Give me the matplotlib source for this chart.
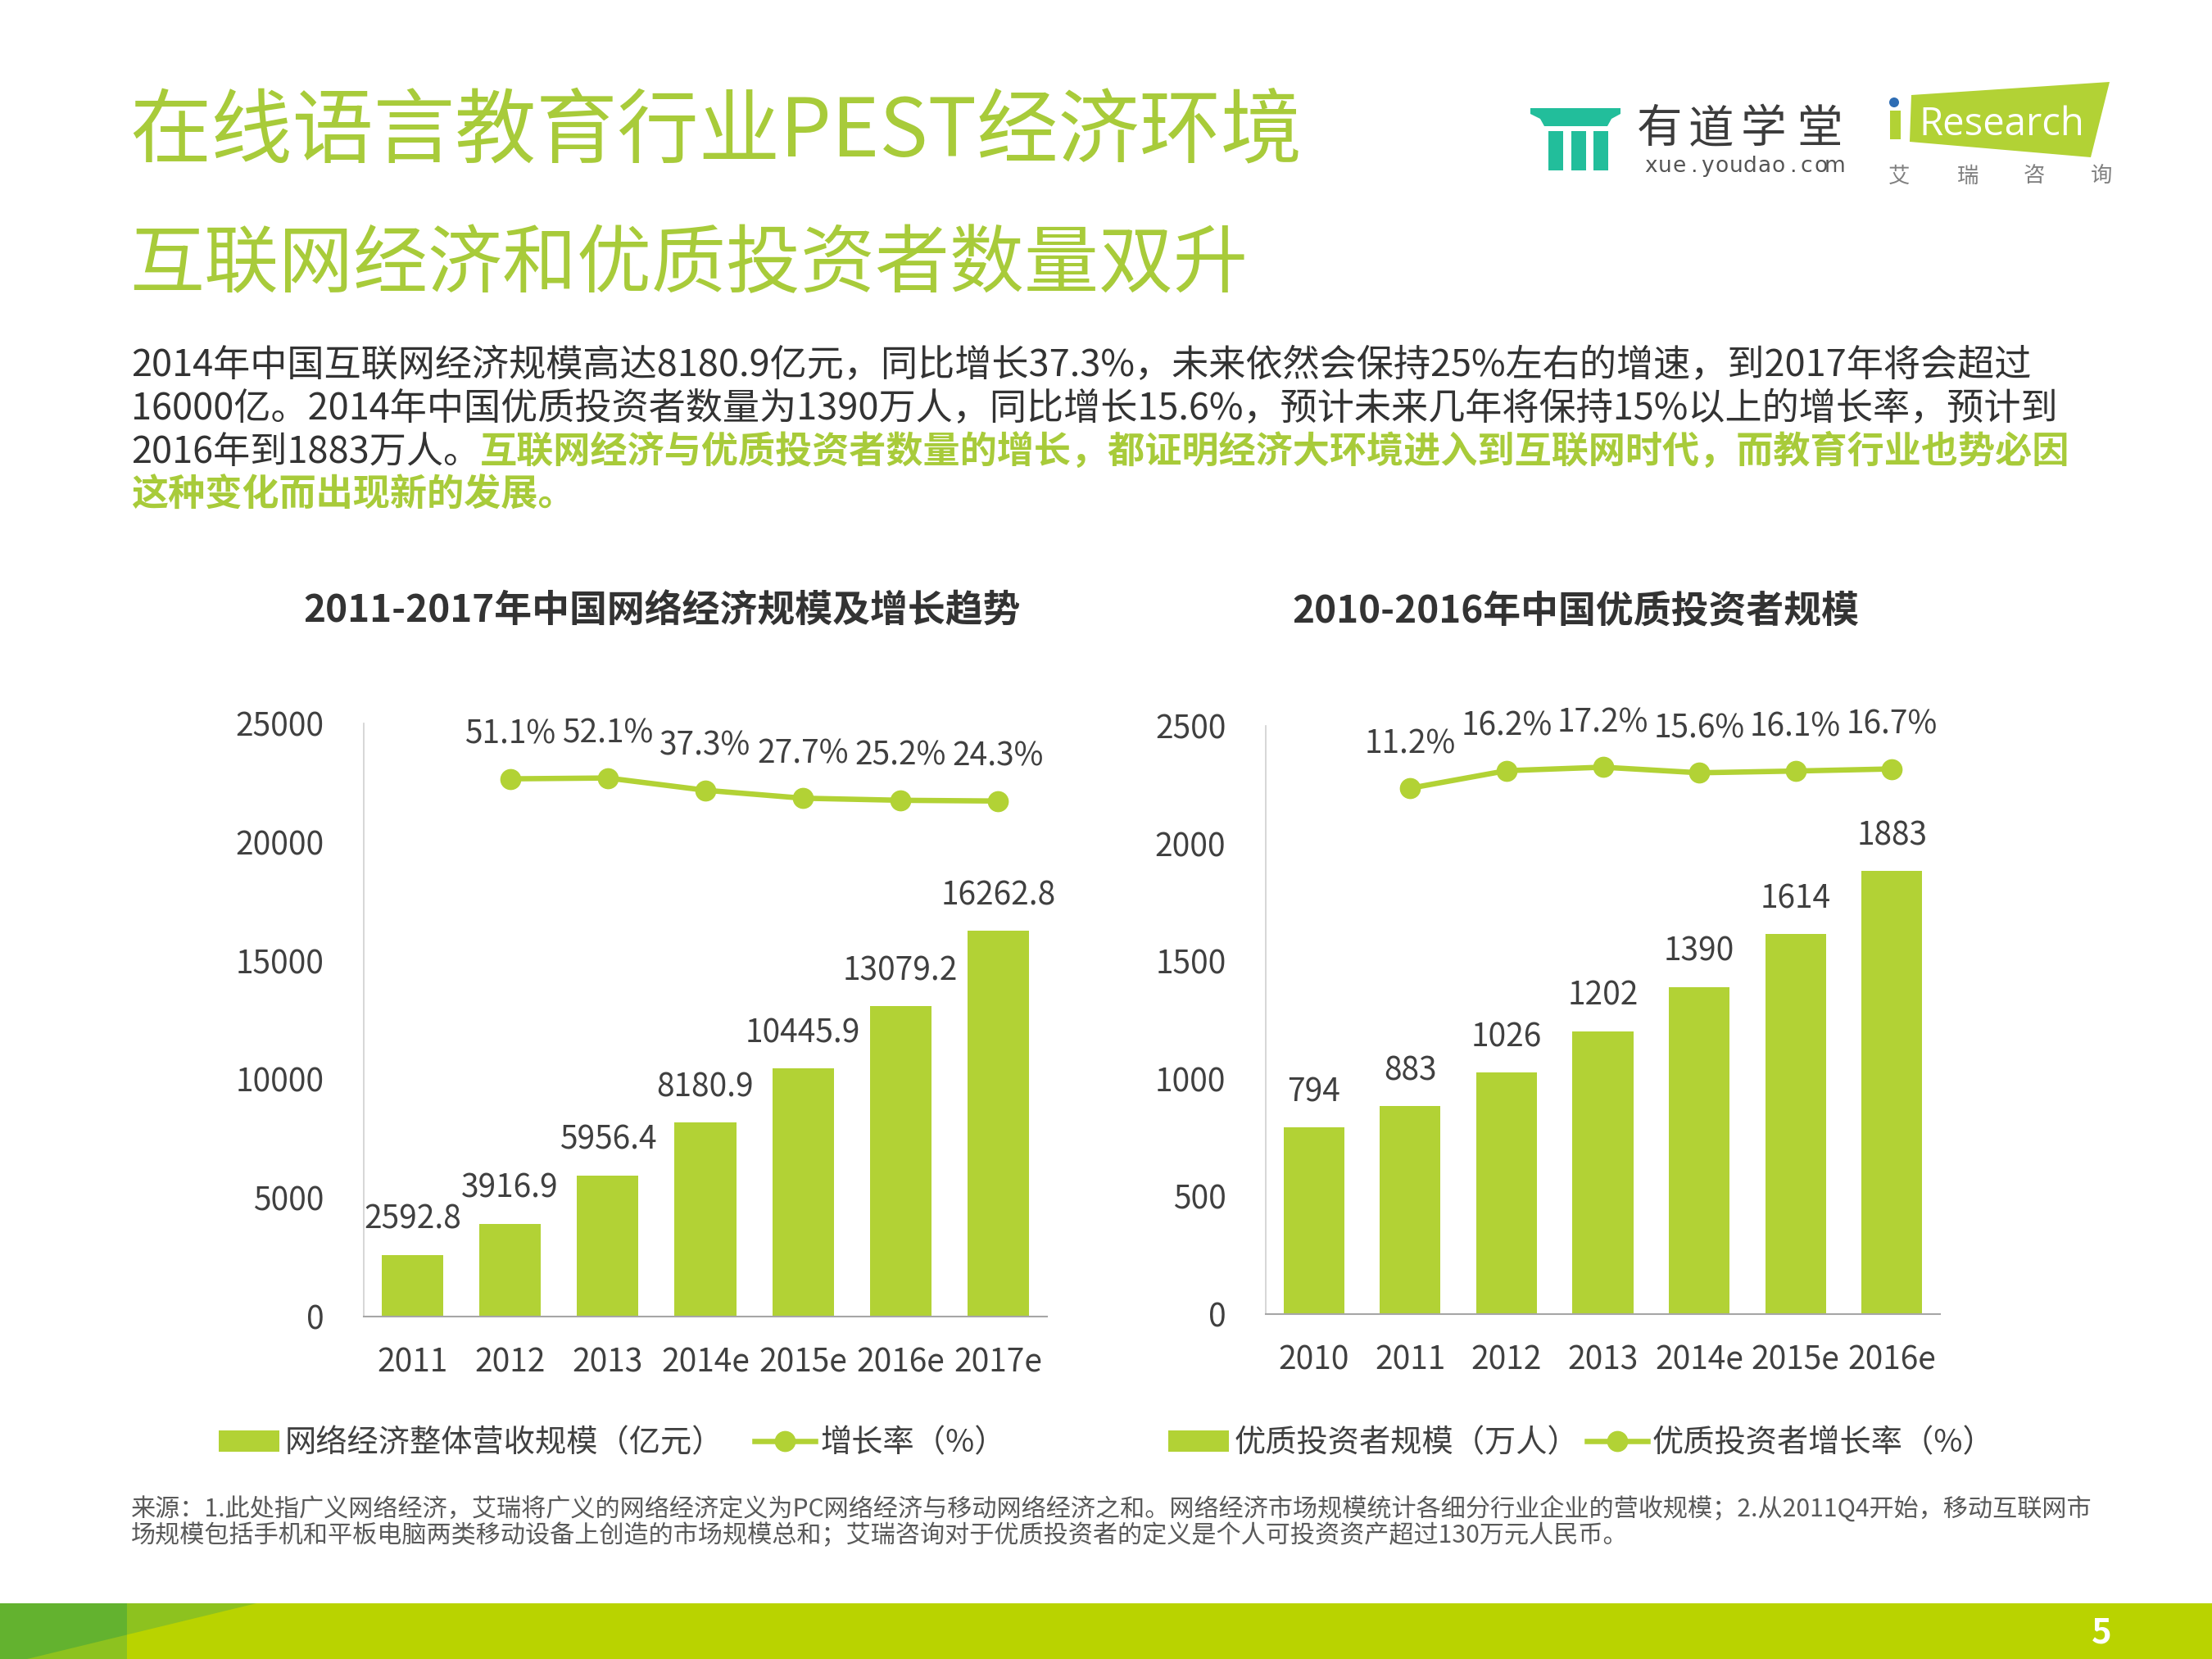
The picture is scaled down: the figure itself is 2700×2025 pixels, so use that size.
import matplotlib
matplotlib.use('Agg')
import matplotlib.pyplot as plt
from matplotlib.patches import Polygon, Rectangle, Circle
import numpy as np

plt.rcParams['font.family'] = ['Noto Sans CJK SC', 'DejaVu Sans']

# ---------------- data ----------------
years1 = ['2011', '2012', '2013', '2014e', '2015e', '2016e', '2017e']
scale1 = [2592.8, 3916.9, 5956.4, 8180.9, 10445.9, 13079.2, 16262.8]
growth1 = [51.1, 52.1, 37.3, 27.7, 25.2, 24.3]          # 2012 .. 2017e

years2 = ['2010', '2011', '2012', '2013', '2014e', '2015e', '2016e']
scale2 = [794, 883, 1026, 1202, 1390, 1614, 1883]
growth2 = [11.2, 16.2, 17.2, 15.6, 16.1, 16.7]          # 2011 .. 2016e

yticks1 = [0, 5000, 10000, 15000, 20000, 25000]
yticks2 = [0, 500, 1000, 1500, 2000, 2500]

title = '在线语言教育行业PEST经济环境'
subtitle = '互联网经济和优质投资者数量双升'
body1 = '2014年中国互联网经济规模高达8180.9亿元，同比增长37.3%，未来依然会保持25%左右的增速，到2017年将会超过'
body2 = '16000亿。2014年中国优质投资者数量为1390万人，同比增长15.6%，预计未来几年将保持15%以上的增长率，预计到'
body3a = '2016年到1883万人。'
body3b = '互联网经济与优质投资者数量的增长，都证明经济大环境进入到互联网时代，而教育行业也势必因'
body4 = '这种变化而出现新的发展。'
chart1_title = '2011-2017年中国网络经济规模及增长趋势'
chart2_title = '2010-2016年中国优质投资者规模'
legend1 = ['网络经济整体营收规模（亿元）', '增长率（%）']
legend2 = ['优质投资者规模（万人）', '优质投资者增长率（%）']
note1 = '来源：1.此处指广义网络经济，艾瑞将广义的网络经济定义为PC网络经济与移动网络经济之和。网络经济市场规模统计各细分行业企业的营收规模；2.从2011Q4开始，移动互联网市'
note2 = '场规模包括手机和平板电脑两类移动设备上创造的市场规模总和；艾瑞咨询对于优质投资者的定义是个人可投资资产超过130万元人民币。'

# ---------------- style ----------------
W, H = 2700, 2025
GREEN = '#B2D235'
TGREEN = '#A8CB3A'
DARK = '#404040'
TEAL = '#22BE9B'
LFS = 28  # chart label font size

fig = plt.figure(figsize=(W / 100, H / 100), dpi=100)
fig.patch.set_facecolor('white')

# background / decoration layer in pixel coordinates
bg = fig.add_axes([0, 0, 1, 1], zorder=-1)
bg.set_xlim(0, W)
bg.set_ylim(H, 0)
bg.axis('off')

# titles
bg.text(158, 162, title, fontsize=71.5, color=TGREEN, va='center', ha='left')
bg.text(158, 324, subtitle, fontsize=65.5, color=TGREEN, va='center', ha='left')

# body text
BFS = 32.5
bg.text(160, 446, body1, fontsize=BFS, color='#333333', va='center', ha='left')
bg.text(160, 499, body2, fontsize=BFS, color='#333333', va='center', ha='left')
t3 = bg.text(160, 552, body3a, fontsize=BFS, color='#333333', va='center', ha='left')
renderer = fig.canvas.get_renderer()
bb = t3.get_window_extent(renderer=renderer)
bg.text(bb.x1, 552, body3b, fontsize=BFS, color=TGREEN, fontweight='bold', va='center', ha='left')
bg.text(160, 605, body4, fontsize=BFS, color=TGREEN, fontweight='bold', va='center', ha='left')

# chart titles
bg.text(808, 747, chart1_title, fontsize=33, fontweight='bold', color='#333333', ha='center', va='center')
bg.text(1923, 747, chart2_title, fontsize=33, fontweight='bold', color='#333333', ha='center', va='center')

# footnote
bg.text(160, 1841, note1, fontsize=21.7, color='#595959', ha='left', va='center')
bg.text(160, 1875, note2, fontsize=21.7, color='#595959', ha='left', va='center')

# bottom band
bg.add_patch(Rectangle((0, 1957), W, 68, color='#B9D300', lw=0))
bg.add_patch(Polygon([(0, 1957), (313, 1957), (33, 2025), (0, 2025)], closed=True, color='#8DC21F', lw=0))
bg.add_patch(Rectangle((0, 1957), 155, 68, color='#8DC21F', lw=0))
bg.add_patch(Polygon([(0, 1957), (155, 1957), (155, 1995.4), (33, 2025), (0, 2025)], closed=True, color='#63B22F', lw=0))
bg.text(2565, 1994, '5', fontsize=30, color='white', fontweight='bold', ha='center', va='center')

# youdao logo
bg.add_patch(Polygon([(1868, 132), (1978, 132), (1978, 139), (1967, 145), (1962, 154),
                      (1885, 154), (1880, 145), (1868, 139)], closed=True, color=TEAL, lw=0))
for x0 in (1890, 1918, 1945):
    bg.add_patch(Rectangle((x0, 160), 17.5, 48, color=TEAL, lw=0))
for ch, cx in zip('有道学堂', (2026, 2088, 2152, 2221)):
    bg.text(cx, 158, ch, fontsize=40, color='#3C3C3C', ha='center', va='center')
url = 'xue.youdao.com'
step = (2248.3 - 2006.7) / len(url)
for i, ch in enumerate(url):
    bg.text(2006.7 + (i + 0.5) * step, 203, ch, fontsize=19, color='#555555',
            ha='center', va='center', family='DejaVu Sans')

# iResearch logo
bg.add_patch(Polygon([(2333, 116), (2575, 100), (2552, 192), (2331, 173)], closed=True, color=GREEN, lw=0))
bg.add_patch(Rectangle((2307, 135), 13, 35, color=GREEN, lw=0))
bg.add_patch(Circle((2312, 125), 6, color='#2E6DB4', lw=0))
bg.text(2342, 165, 'Research', fontsize=34, color='white', family='Open Sans', ha='left', va='baseline')
for ch, cx in zip('艾瑞咨询', (2318, 2402, 2483, 2565)):
    bg.text(cx, 215, ch, fontsize=19, color='#808080', ha='center', va='center')


# ---------------- charts ----------------
def make_chart(rect, cats, vals, growth, ylim, yticks, glim, fmt):
    ax = fig.add_axes(rect)
    x = np.arange(len(cats))
    bars = ax.bar(x, vals, width=0.63, color=GREEN, zorder=2)
    ax.set_xlim(-0.5, len(cats) - 0.5)
    ax.set_ylim(*ylim)
    ax.set_yticks(yticks)
    ax.set_xticks(x)
    ax.set_xticklabels(cats)
    for s in ('top', 'right'):
        ax.spines[s].set_visible(False)
    ax.spines['left'].set_color('#D0D0D0')
    ax.spines['bottom'].set_color('#A6A6A6')
    ax.spines['left'].set_linewidth(1.2)
    ax.spines['bottom'].set_linewidth(1.5)
    ax.tick_params(axis='both', length=0, labelsize=LFS, labelcolor=DARK)
    ax.tick_params(axis='y', pad=35)
    ax.tick_params(axis='x', pad=26)
    for xi, v in zip(x, vals):
        ax.annotate(fmt.format(v), (xi, v), xytext=(0, 23), textcoords='offset points',
                    ha='center', va='baseline', fontsize=LFS, color=DARK)
    ax.set_facecolor('none')

    ax2 = ax.twinx()
    ax2.set_ylim(*glim)
    line, = ax2.plot(x[1:], growth, color=GREEN, lw=4.7, marker='o', ms=17.5, zorder=3)
    for xi, g in zip(x[1:], growth):
        ax2.annotate(f'{g:.1f}%', (xi, g), xytext=(0, 31), textcoords='offset points',
                     ha='center', va='baseline', fontsize=LFS, color=DARK)
    ax2.axis('off')
    return bars, line


bars1, line1 = make_chart([444 / W, 1 - 1607 / H, 834 / W, 724 / H], years1, scale1, growth1,
                          (0, 25000), yticks1, (-598, 118), '{:.1f}')
bars2, line2 = make_chart([1545 / W, 1 - 1604 / H, 823 / W, 718 / H], years2, scale2, growth2,
                          (0, 2500), yticks2, (-139, 29), '{:d}')

leg_kw = dict(loc='center left', ncol=2, frameon=False, fontsize=27.5, handlelength=1.95,
              handleheight=0.64, handletextpad=0.15, borderpad=0,
              borderaxespad=0, numpoints=1, labelcolor=DARK)
fig.legend([bars1, line1], legend1, bbox_to_anchor=(267 / W, 1 - 1762 / H),
           columnspacing=1.0, **leg_kw)
fig.legend([bars2, line2], legend2, bbox_to_anchor=(1426 / W, 1 - 1762 / H),
           columnspacing=0.25, **leg_kw)

fig.savefig('out.png', dpi=100, facecolor='white')
